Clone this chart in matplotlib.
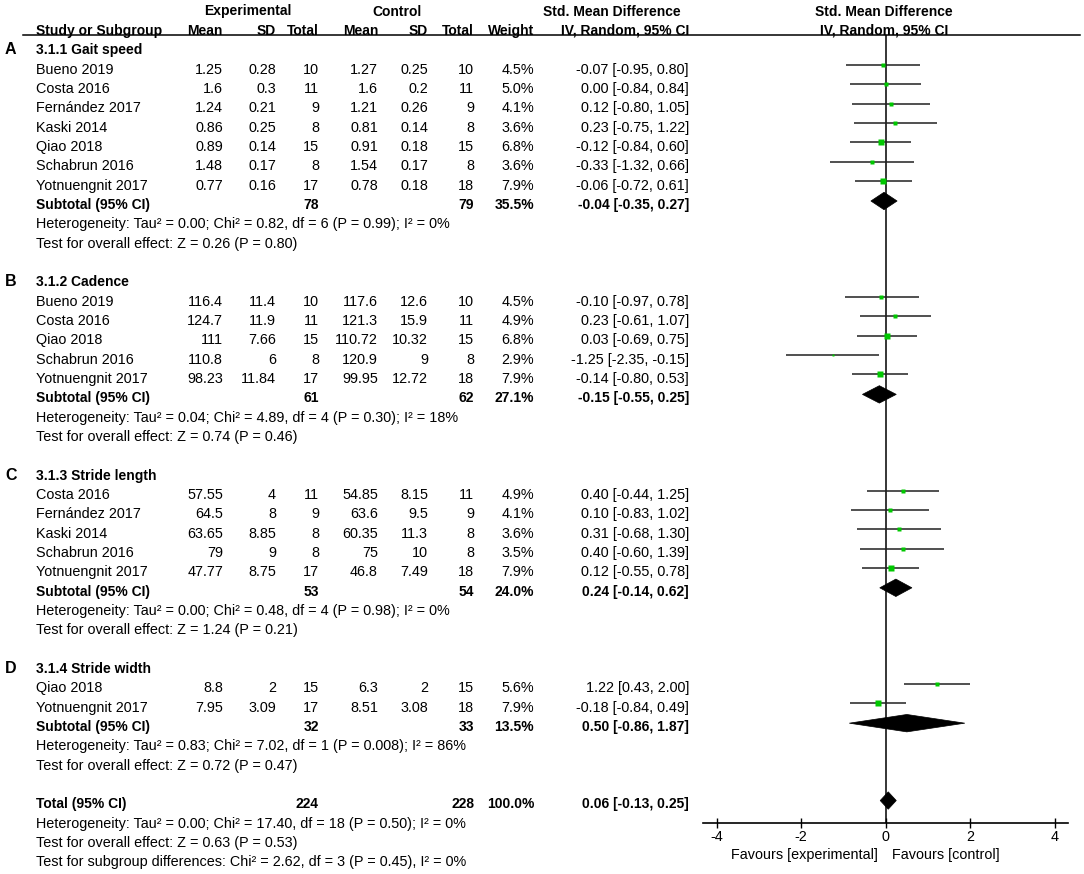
import matplotlib
matplotlib.use("Agg")
import matplotlib.pyplot as plt
from matplotlib.patches import Polygon

plt.rcParams['font.family'] = ['Liberation Sans', 'DejaVu Sans']
plt.rcParams['axes.unicode_minus'] = False

# ---- data ----
study = ["Bueno 2019", "Costa 2016", "Fernández 2017", "Kaski 2014", "Qiao 2018",
         "Schabrun 2016", "Yotnuengnit 2017",
         "Bueno 2019", "Costa 2016", "Qiao 2018", "Schabrun 2016", "Yotnuengnit 2017",
         "Costa 2016", "Fernández 2017", "Kaski 2014", "Schabrun 2016", "Yotnuengnit 2017",
         "Qiao 2018", "Yotnuengnit 2017"]
group = [0]*7 + [1]*5 + [2]*5 + [3]*2
exp_mean = ["1.25", "1.6", "1.24", "0.86", "0.89", "1.48", "0.77",
            "116.4", "124.7", "111", "110.8", "98.23",
            "57.55", "64.5", "63.65", "79", "47.77",
            "8.8", "7.95"]
exp_sd = ["0.28", "0.3", "0.21", "0.25", "0.14", "0.17", "0.16",
          "11.4", "11.9", "7.66", "6", "11.84",
          "4", "8", "8.85", "9", "8.75",
          "2", "3.09"]
exp_n = [10, 11, 9, 8, 15, 8, 17, 10, 11, 15, 8, 17, 11, 9, 8, 8, 17, 15, 17]
ctl_mean = ["1.27", "1.6", "1.21", "0.81", "0.91", "1.54", "0.78",
            "117.6", "121.3", "110.72", "120.9", "99.95",
            "54.85", "63.6", "60.35", "75", "46.8",
            "6.3", "8.51"]
ctl_sd = ["0.25", "0.2", "0.26", "0.14", "0.18", "0.17", "0.18",
          "12.6", "15.9", "10.32", "9", "12.72",
          "8.15", "9.5", "11.3", "10", "7.49",
          "2", "3.08"]
ctl_n = [10, 11, 9, 8, 15, 8, 18, 10, 11, 15, 8, 18, 11, 9, 8, 8, 18, 15, 18]
weight = [4.5, 5.0, 4.1, 3.6, 6.8, 3.6, 7.9,
          4.5, 4.9, 6.8, 2.9, 7.9,
          4.9, 4.1, 3.6, 3.5, 7.9,
          5.6, 7.9]
smd = [-0.07, 0.00, 0.12, 0.23, -0.12, -0.33, -0.06,
       -0.10, 0.23, 0.03, -1.25, -0.14,
       0.40, 0.10, 0.31, 0.40, 0.12,
       1.22, -0.18]
ci_lo = [-0.95, -0.84, -0.80, -0.75, -0.84, -1.32, -0.72,
         -0.97, -0.61, -0.69, -2.35, -0.80,
         -0.44, -0.83, -0.68, -0.60, -0.55,
         0.43, -0.84]
ci_hi = [0.80, 0.84, 1.05, 1.22, 0.60, 0.66, 0.61,
         0.78, 1.07, 0.75, -0.15, 0.53,
         1.25, 1.02, 1.30, 1.39, 0.78,
         2.00, 0.49]

sub_letter = ["A", "B", "C", "D"]
sub_title = ["3.1.1 Gait speed", "3.1.2 Cadence", "3.1.3 Stride length", "3.1.4 Stride width"]
sub_n_exp = [78, 61, 53, 32]
sub_n_ctl = [79, 62, 54, 33]
sub_weight = [35.5, 27.1, 24.0, 13.5]
sub_smd = [-0.04, -0.15, 0.24, 0.50]
sub_lo = [-0.35, -0.55, -0.14, -0.86]
sub_hi = [0.27, 0.25, 0.62, 1.87]
sub_het = ["Heterogeneity: Tau² = 0.00; Chi² = 0.82, df = 6 (P = 0.99); I² = 0%",
           "Heterogeneity: Tau² = 0.04; Chi² = 4.89, df = 4 (P = 0.30); I² = 18%",
           "Heterogeneity: Tau² = 0.00; Chi² = 0.48, df = 4 (P = 0.98); I² = 0%",
           "Heterogeneity: Tau² = 0.83; Chi² = 7.02, df = 1 (P = 0.008); I² = 86%"]
sub_test = ["Test for overall effect: Z = 0.26 (P = 0.80)",
            "Test for overall effect: Z = 0.74 (P = 0.46)",
            "Test for overall effect: Z = 1.24 (P = 0.21)",
            "Test for overall effect: Z = 0.72 (P = 0.47)"]

total_n_exp, total_n_ctl, total_weight = 224, 228, 100.0
total_smd, total_lo, total_hi = 0.06, -0.13, 0.25
total_notes = ["Heterogeneity: Tau² = 0.00; Chi² = 17.40, df = 18 (P = 0.50); I² = 0%",
               "Test for overall effect: Z = 0.63 (P = 0.53)",
               "Test for subgroup differences: Chi² = 2.62, df = 3 (P = 0.45), I² = 0%"]

x_ticks = [-4, -2, 0, 2, 4]

# ---- layout ----
W, H = 1084, 874
Y0, DY = 10.5, 19.34          # row centre in pixels
FS = 10.4                      # regular text
FSB = 10                       # bold text
GREEN = '#00c800'

fig = plt.figure(figsize=(W / 100, H / 100), dpi=100)
ax0 = fig.add_axes([0, 0, 1, 1])
ax0.set_xlim(0, W)
ax0.set_ylim(H, 0)
ax0.axis('off')

# forest panel
x_zero, k = 885.7, 42.3
left_px, right_px, top_px, axis_px = 703, 1068, 35, 823
ax = fig.add_axes([left_px / W, 1 - axis_px / H, (right_px - left_px) / W, (axis_px - top_px) / H])
ax.set_xlim((left_px - x_zero) / k, (right_px - x_zero) / k)
ax.set_ylim((axis_px - Y0) / DY, (top_px - Y0) / DY)
ax.patch.set_alpha(0)
for s in ['top', 'left', 'right']:
    ax.spines[s].set_visible(False)
ax.spines['bottom'].set_linewidth(1.2)
ax.set_yticks([])
ax.set_xticks(x_ticks)
ax.set_xticklabels([str(t) for t in x_ticks], fontsize=FS)
ax.tick_params(axis='x', direction='inout', length=7, width=1, pad=1.5)
ax.axvline(0, color='black', lw=1.1, zorder=1)


def txt(x, row, s, ha='right', bold=False, size=None):
    if size is None:
        size = FSB if bold else FS
    ax0.text(x, Y0 + DY * row + 5, s, ha=ha, va='baseline', fontsize=size,
             fontweight='bold' if bold else 'normal', color='black')


# headers
txt(248, 0, "Experimental", ha='center', bold=True)
txt(397, 0, "Control", ha='center', bold=True)
txt(612, 0, "Std. Mean Difference", ha='center', bold=True)
txt(884, 0, "Std. Mean Difference", ha='center', bold=True)
txt(35.5, 1, "Study or Subgroup", ha='left', bold=True)
for xr, lab in zip([223, 276, 319, 378, 428, 474, 534],
                   ["Mean", "SD", "Total", "Mean", "SD", "Total", "Weight"]):
    txt(xr, 1, lab, bold=True)
txt(689, 1, "IV, Random, 95% CI", bold=True)
txt(884, 1, "IV, Random, 95% CI", ha='center', bold=True)
ax0.plot([23, 1080], [35, 35], color='black', lw=1.1)


def ci_str(m, lo, hi):
    return f"{m:.2f} [{lo:.2f}, {hi:.2f}]"


def diamond(m, lo, hi, r):
    y = r - 0.15
    ax.add_patch(Polygon([(lo, y), (m, y - 0.45), (hi, y), (m, y + 0.45)],
                         closed=True, facecolor='black', edgecolor='black', lw=0.5, zorder=3))


row = 2
for g in range(len(sub_letter)):
    txt(5, row, sub_letter[g], ha='left', bold=True, size=11.5)
    txt(35.5, row, sub_title[g], ha='left', bold=True)
    row += 1
    for i in [j for j in range(len(study)) if group[j] == g]:
        txt(35.5, row, study[i], ha='left')
        txt(223, row, exp_mean[i])
        txt(276, row, exp_sd[i])
        txt(319, row, str(exp_n[i]))
        txt(378, row, ctl_mean[i])
        txt(428, row, ctl_sd[i])
        txt(474, row, str(ctl_n[i]))
        txt(534, row, f"{weight[i]:.1f}%")
        txt(689, row, ci_str(smd[i], ci_lo[i], ci_hi[i]))
        ax.hlines(row - 0.18, ci_lo[i], ci_hi[i], color='#202020', lw=1.1, zorder=2)
        ax.plot(smd[i], row - 0.18, marker='s', ms=0.5 * weight[i] + 0.6, color=GREEN,
                mec='none', linestyle='none', zorder=4)
        row += 1
    txt(35.5, row, "Subtotal (95% CI)", ha='left', bold=True)
    txt(319, row, str(sub_n_exp[g]), bold=True)
    txt(474, row, str(sub_n_ctl[g]), bold=True)
    txt(534, row, f"{sub_weight[g]:.1f}%", bold=True)
    txt(689, row, ci_str(sub_smd[g], sub_lo[g], sub_hi[g]), bold=True)
    diamond(sub_smd[g], sub_lo[g], sub_hi[g], row)
    row += 1
    txt(35.5, row, sub_het[g], ha='left')
    row += 1
    txt(35.5, row, sub_test[g], ha='left')
    row += 2

txt(35.5, row, "Total (95% CI)", ha='left', bold=True)
txt(319, row, str(total_n_exp), bold=True)
txt(474, row, str(total_n_ctl), bold=True)
txt(534, row, f"{total_weight:.1f}%", bold=True)
txt(689, row, ci_str(total_smd, total_lo, total_hi), bold=True)
diamond(total_smd, total_lo, total_hi, row)
for note in total_notes:
    row += 1
    txt(35.5, row, note, ha='left')

ax0.text(878, 855, "Favours [experimental]", ha='right', va='center', fontsize=FS)
ax0.text(892, 855, "Favours [control]", ha='left', va='center', fontsize=FS)

fig.savefig("out.png", dpi=100, facecolor='white')
